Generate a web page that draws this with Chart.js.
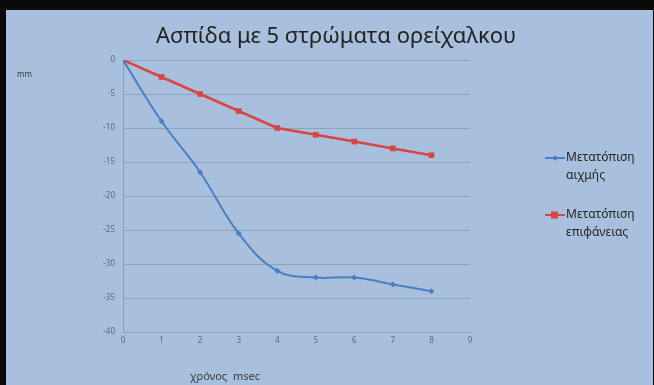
<!DOCTYPE html>
<html>
<head>
<meta charset="utf-8">
<script src="https://cdn.jsdelivr.net/npm/chart.js@4"></script>
<style>
  body { margin: 0; background: #000; }
  canvas { display: block; }
</style>
</head>
<body>
<canvas id="myChart" width="654" height="385"></canvas>
<script>
// time in msec
const timeMs = [0, 1, 2, 3, 4, 5, 6, 7, 8];
// displacement in mm
const tipShift = [0, -9, -16.5, -25.5, -31, -32, -32, -33, -34];
const surfaceShift = [0, -2.5, -5, -7.5, -10, -11, -12, -13, -14];
const seriesNames = [['Μετατόπιση', 'αιχμής'], ['Μετατόπιση', 'επιφάνειας']];
const chartTitle = 'Ασπίδα με 5 στρώματα ορείχαλκου';
const xTitle = 'χρόνος  msec';
const yTitle = 'mm';

function toPoints(xs, ys) {
    return xs.map(function (x, i) { return { x: x, y: ys[i] }; });
}

const blue = '#4a7fc1';
const red = '#d84542';
const font = 'Noto Sans';

// background, frame, titles and the legend
const decorations = {
    id: 'decorations',
    beforeDraw: function (chart) {
        const c = chart.ctx;
        c.save();
        c.fillStyle = '#0a0a0a';
        c.fillRect(0, 0, chart.width, chart.height);
        c.fillStyle = '#a8c0de';
        c.fillRect(6, 10, chart.width - 7, chart.height - 10);
        c.restore();
    },
    afterDraw: function (chart) {
        const c = chart.ctx;
        c.save();
        c.fillStyle = '#222';
        c.font = '22px "' + font + '"';
        c.textAlign = 'center';
        c.textBaseline = 'middle';
        c.fillText(chartTitle, 336, 37);

        c.fillStyle = '#3a3a3a';
        c.font = '11px "' + font + '"';
        c.fillText(xTitle, 225, 377);
        c.font = '8px "' + font + '"';
        c.textAlign = 'left';
        c.fillText(yTitle, 17, 75);

        // legend
        const colors = [blue, red];
        const ys = [158, 215];
        c.font = '12px "' + font + '"';
        c.textBaseline = 'middle';
        seriesNames.forEach(function (lines, i) {
            const y = ys[i];
            c.strokeStyle = colors[i];
            c.fillStyle = colors[i];
            c.lineWidth = 2;
            c.beginPath();
            c.moveTo(545, y);
            c.lineTo(565, y);
            c.stroke();
            if (i === 0) {
                c.beginPath();
                c.moveTo(555, y - 3); c.lineTo(558, y); c.lineTo(555, y + 3); c.lineTo(552, y);
                c.closePath();
                c.fill();
            } else {
                c.fillRect(551, y - 3.5, 7, 7);
            }
            c.fillStyle = '#262626';
            c.fillText(lines[0], 566, y);
            c.fillText(lines[1], 566, y + 18);
        });
        c.restore();
    }
};

const ctx = document.getElementById('myChart');
new Chart(ctx, {
    type: 'scatter',
    data: {
        datasets: [{
            label: seriesNames[0].join(' '),
            data: toPoints(timeMs, tipShift),
            showLine: true,
            borderColor: blue,
            backgroundColor: blue,
            borderWidth: 2,
            tension: 0.4,
            pointStyle: 'rectRot',
            pointRadius: 3,
            pointBorderWidth: 0
        }, {
            label: seriesNames[1].join(' '),
            data: toPoints(timeMs, surfaceShift),
            showLine: true,
            borderColor: red,
            backgroundColor: red,
            borderWidth: 2.5,
            tension: 0,
            pointStyle: 'rect',
            pointRadius: 4,
            pointBorderWidth: 0
        }]
    },
    options: {
        responsive: false,
        animation: false,
        layout: { padding: { left: 0, right: 184, top: 60, bottom: 0 } },
        plugins: {
            legend: { display: false },
            title: { display: false },
            tooltip: { enabled: false }
        },
        scales: {
            x: {
                type: 'linear',
                min: 0, max: 9,
                ticks: { stepSize: 1, color: '#666', font: { family: font, size: 8 }, padding: 4 },
                grid: { display: false, drawTicks: false },
                border: { color: '#8d9db3' },
                afterFit: function (scale) { scale.height = 53; }
            },
            y: {
                min: -40, max: 0,
                ticks: { stepSize: 5, color: '#666', font: { family: font, size: 8 }, padding: 8 },
                grid: { color: '#8fa2bc', drawTicks: false },
                border: { color: '#8d9db3' },
                afterFit: function (scale) { scale.width = 123; }
            }
        }
    },
    plugins: [decorations]
});
</script>
</body>
</html>
